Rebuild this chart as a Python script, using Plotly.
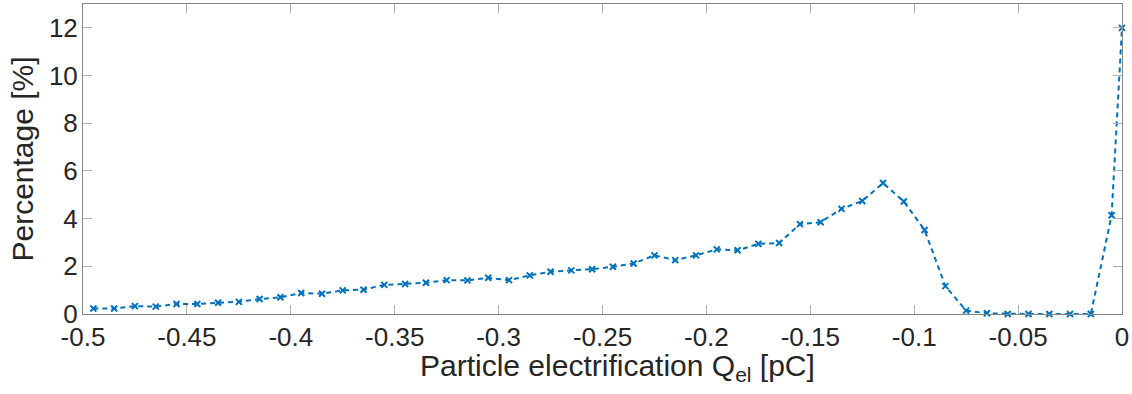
import plotly.graph_objects as go

# Bin centres of particle electrification [pC] and percentage per bin [%]
charge_pc = [-0.495, -0.485, -0.475, -0.465, -0.455, -0.445, -0.435, -0.425, -0.415,
             -0.405, -0.395, -0.385, -0.375, -0.365, -0.355, -0.345, -0.335, -0.325,
             -0.315, -0.305, -0.295, -0.285, -0.275, -0.265, -0.255, -0.245, -0.235,
             -0.225, -0.215, -0.205, -0.195, -0.185, -0.175, -0.165, -0.155, -0.145,
             -0.135, -0.125, -0.115, -0.105, -0.095, -0.085, -0.075, -0.065, -0.055,
             -0.045, -0.035, -0.025, -0.015, -0.005, 0.0]
percentage = [0.23, 0.23, 0.33, 0.31, 0.42, 0.42, 0.47, 0.51, 0.63,
              0.70, 0.88, 0.85, 0.99, 1.02, 1.22, 1.26, 1.31, 1.42,
              1.41, 1.52, 1.42, 1.62, 1.77, 1.83, 1.88, 1.98, 2.12,
              2.46, 2.26, 2.46, 2.71, 2.67, 2.94, 2.98, 3.77, 3.85,
              4.41, 4.74, 5.49, 4.72, 3.52, 1.17, 0.14, 0.03, 0.0,
              0.0, 0.0, 0.0, 0.0, 4.14, 12.0]

x_ticks = [-0.5, -0.45, -0.4, -0.35, -0.3, -0.25, -0.2, -0.15, -0.1, -0.05, 0]
x_tick_text = ["-0.5", "-0.45", "-0.4", "-0.35", "-0.3", "-0.25", "-0.2", "-0.15", "-0.1", "-0.05", "0"]
y_ticks = [0, 2, 4, 6, 8, 10, 12]

BLUE = "#0072BD"
TXT = "#262626"
FONT = "Liberation Sans, Arial, Helvetica, sans-serif"

fig = go.Figure()
fig.add_trace(go.Scatter(
    x=charge_pc, y=percentage, mode="lines+markers",
    line=dict(color=BLUE, width=2, dash="5px,4px"),
    marker=dict(symbol="x-thin", size=6, line=dict(color=BLUE, width=2), color=BLUE),
    showlegend=False, cliponaxis=False,
))

axis_common = dict(
    showgrid=False, zeroline=False, showline=True, linecolor="#868686", linewidth=1,
    mirror="allticks", ticks="inside", ticklen=9, tickwidth=1, tickcolor="#b0b0b0",
    tickfont=dict(family=FONT, size=26, color=TXT),
)

fig.update_xaxes(
    range=[-0.5, 0], tickvals=x_ticks, ticktext=x_tick_text,
    ticklabeloverflow="allow", ticklabelstandoff=0,
    **axis_common,
)
fig.update_yaxes(
    range=[0, 13], tickvals=y_ticks, ticklabelstandoff=-1,
    title=dict(text="Percentage [%]", font=dict(family=FONT, size=30, color=TXT), standoff=6),
    **axis_common,
)

fig.add_annotation(
    text="Particle electrification Q<sub>el</sub> [pC]",
    xref="paper", yref="paper", x=0.5, y=0, xshift=15, yshift=-53,
    xanchor="center", yanchor="middle", showarrow=False,
    font=dict(family=FONT, size=30, color=TXT),
)

fig.update_layout(
    width=1132, height=394,
    margin=dict(l=83, r=7, t=3, b=80),
    paper_bgcolor="white", plot_bgcolor="white",
)

fig.write_html(
    "out.html",
    config={"displayModeBar": False},
    post_script="document.body.style.margin='0';document.body.style.overflow='hidden';",
)
